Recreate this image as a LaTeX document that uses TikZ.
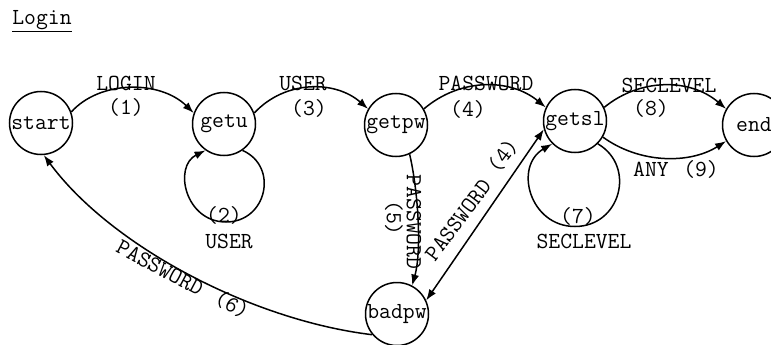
\documentclass[tikz,border=0pt]{standalone}
\usetikzlibrary{arrows.meta}
\newcommand\lblfont{\fontsize{23}{26}\selectfont\ttfamily}
\begin{document}
\begin{tikzpicture}[x=1pt,y=-1pt,
  state/.style={draw, circle, line width=1.5pt, minimum size=63pt, inner sep=0pt, font=\lblfont},
  edge/.style={line width=1.5pt, -{Latex[length=11pt,width=8pt]}},
  lab/.style={font=\lblfont, inner sep=0pt}]
\useasboundingbox (0,0) rectangle (771,345);
\node[lab] (title) at (42,21) {\underline{Login}};
\node[state] (start) at (41,123) {start};
\node[state] (getu) at (224,124) {getu};
\node[state] (getpw) at (396,125) {getpw};
\node[state] (getsl) at (575,121) {getsl};
\node[state] (end) at (754,125) {end};
\node[state] (badpw) at (397,314) {badpw};
\draw[edge] (start.20) .. controls (100,80) and (160,80) .. (getu.160);
\draw[edge] (getu.20) .. controls (285,80) and (335,80) .. (getpw.150);
\draw[edge] (getpw.30) .. controls (460,78) and (510,78) .. (getsl.155);
\draw[edge] (getsl.25) .. controls (640,78) and (690,78) .. (end.150);
\draw[edge] (getsl.-30) .. controls (640,164) and (690,164) .. (end.-150);
\draw[edge] (getpw.-65) .. controls (418,190) and (422,250) .. (badpw.62);
\draw[edge, {Latex[length=11pt,width=8pt]}-{Latex[length=11pt,width=8pt]}] (badpw.25) -- (getsl.-165);
\draw[edge] (badpw.-140) .. controls (250,320) and (110,245) .. (start.-85);
\draw[edge] (getu.-55) .. controls (279,166.4) and (266.9,222) .. (226,222)
  .. controls (185.1,222) and (173,166.4) .. (getu.-125);
\draw[edge] (getsl.-45) .. controls (636.6,166.6) and (620.3,226.5) .. (575,226.5)
  .. controls (529.7,226.5) and (513.4,166.6) .. (getsl.-135);
\node[lab] (l1) at (126,83) {LOGIN};
\node[lab] (n1) at (126,107) {(1)};
\node[lab] (l3) at (303,83) {USER};
\node[lab] (n3) at (309,108) {(3)};
\node[lab] (l4) at (486,83) {PASSWORD};
\node[lab] (n4) at (468,109) {(4)};
\node[lab] (l8) at (669,85) {SECLEVEL};
\node[lab] (n8) at (651,108) {(8)};
\node[lab] (l9) at (651,169) {ANY};
\node[lab] (n9) at (701,169) {(9)};
\node[lab] (n2) at (224,215) {(2)};
\node[lab] (l2) at (229,241) {USER};
\node[lab] (n7) at (578,216) {(7)};
\node[lab] (l7) at (584,241) {SECLEVEL};
\node[lab, rotate=-28] (l6) at (160,268) {PASSWORD};
\node[lab, rotate=-28] (n6) at (232,305) {(6)};
\node[lab, rotate=-90] (l5) at (414,222) {PASSWORD};
\node[lab, rotate=-90] (n5) at (394,218) {(5)};
\node[lab, rotate=53] (l4b) at (458,220) {PASSWORD};
\node[lab, rotate=53] (n4b) at (503,156) {(4)};
\end{tikzpicture}
\end{document}
